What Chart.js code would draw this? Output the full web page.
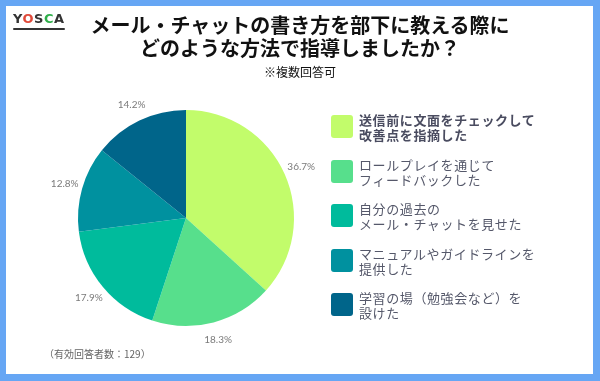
<!DOCTYPE html>
<html>
<head>
<meta charset="utf-8">
<script src="https://cdn.jsdelivr.net/npm/chart.js@4/dist/chart.umd.min.js"></script>
<style>
  html, body { margin: 0; padding: 0; }
  body { width: 600px; height: 381px; background: #66a6f4; position: relative; overflow: hidden;
         font-family: "Noto Sans CJK JP", "Noto Sans", sans-serif; }
  #panel { position: absolute; left: 6px; top: 6px; width: 587px; height: 368px; background: #fff; }
  #chart { position: absolute; left: 0; top: 0; }
  #logo { position: absolute; left: 13px; top: 11px; font-family: "DejaVu Sans", sans-serif; font-weight: bold;
          font-size: 13px; letter-spacing: 0.5px; color: #333; }
  #logo .o { color: #e04a3a; }
  #logo .c { color: #2fae4a; }
  #logo .bar { position: absolute; left: 0; top: 17px; width: 52px; height: 2px; background: #333; border-radius: 2px; }
  #title { position: absolute; left: 0; top: 13px; width: 600px; text-align: center; font-weight: bold;
           font-size: 20px; line-height: 23px; color: #111; }
  #subtitle { position: absolute; left: 0; top: 63px; width: 600px; text-align: center; font-size: 12px; color: #111; }
  #legend { position: absolute; left: 331px; top: 115px; }
  .item { position: relative; height: 44.5px; }
  .box { position: absolute; left: 0; top: 0; width: 22px; height: 23px; border-radius: 3px; }
  .txt { position: absolute; left: 28px; top: -3px; font-size: 13px; line-height: 15px; color: #55586a;
         white-space: nowrap; letter-spacing: 0.6px; }
  .item.first .txt { font-weight: bold; color: #4a4c60; }
  #note { position: absolute; left: 44px; top: 346px; font-size: 10px; color: #666; }
</style>
</head>
<body>
<div id="panel"></div>
<canvas id="chart" width="600" height="381"></canvas>
<div id="logo">Y<span class="o">O</span>S<span class="c">C</span>A<div class="bar"></div></div>
<div id="title">メール・チャットの書き方を部下に教える際に<br>どのような方法で指導しましたか？</div>
<div id="subtitle">※複数回答可</div>
<div id="legend"></div>
<div id="note">（有効回答者数：129）</div>
<script>
var categories = [
    ['送信前に文面をチェックして', '改善点を指摘した'],
    ['ロールプレイを通じて', 'フィードバックした'],
    ['自分の過去の', 'メール・チャットを見せた'],
    ['マニュアルやガイドラインを', '提供した'],
    ['学習の場（勉強会など）を', '設けた']
];
var shares = [36.7, 18.3, 17.9, 12.8, 14.2];
var sliceColors = ['#c2fc6b', '#57df8c', '#00bb9c', '#00919f', '#00658a'];

function buildLegend(){
    var legend = document.getElementById('legend');
    categories.forEach(function(lines, i){
        var item = document.createElement('div');
        item.className = 'item' + (i === 0 ? ' first' : '');
        var box = document.createElement('div');
        box.className = 'box';
        box.style.background = sliceColors[i];
        var txt = document.createElement('div');
        txt.className = 'txt';
        txt.innerHTML = lines.join('<br>');
        item.appendChild(box);
        item.appendChild(txt);
        legend.appendChild(item);
    });
}

// percentage labels just outside each slice
var outerLabels = {
    id: 'outerLabels',
    afterDatasetsDraw: function(chart){
        var ctx = chart.ctx;
        var meta = chart.getDatasetMeta(0);
        ctx.save();
        ctx.font = '10px Lato, "Open Sans", sans-serif';
        ctx.fillStyle = '#7a7a7a';
        ctx.textAlign = 'center';
        ctx.textBaseline = 'middle';
        meta.data.forEach(function(arc, i){
            var mid = (arc.startAngle + arc.endAngle) / 2;
            var r = arc.outerRadius + 18;
            var x = arc.x + Math.cos(mid) * r;
            var y = arc.y + Math.sin(mid) * r;
            ctx.fillText(shares[i].toFixed(1) + '%', x, y);
        });
        ctx.restore();
    }
};

function renderChart(){
    var ctx = document.getElementById('chart').getContext('2d');
    new Chart(ctx, {
        type: 'pie',
        data: {
            labels: categories.map(function(l){ return l.join(''); }),
            datasets: [{
                data: shares,
                backgroundColor: sliceColors,
                borderWidth: 0
            }]
        },
        options: {
            responsive: false,
            animation: false,
            layout: { padding: { left: 78, right: 306, top: 110, bottom: 55 } },
            plugins: {
                legend: { display: false },
                tooltip: { enabled: false }
            }
        },
        plugins: [outerLabels]
    });
}

buildLegend();
renderChart();
</script>
</body>
</html>
